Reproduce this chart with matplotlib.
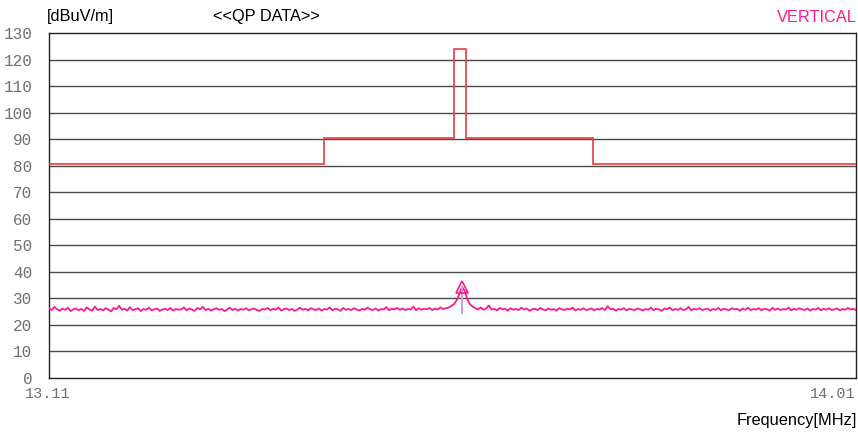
import numpy as np
import matplotlib
matplotlib.use("Agg")
import matplotlib.pyplot as plt

# limit line (QP limit, dBuV/m) - edges in MHz
limit_edges = [13.11, 13.417, 13.562, 13.575, 13.717, 14.01]
limit_levels = [80.5, 90.5, 124.0, 90.5, 80.5]

trace = [
    26.3, 25.6, 26.8, 25.9, 25.4, 26.1, 25.7, 26.5, 25.2, 25.9, 26.2, 25.5, 26.0, 25.3, 26.6, 25.8, 25.4, 26.9, 25.6, 26.0,
    25.5, 26.3, 25.8, 25.1, 26.4, 25.9, 27.2, 25.7, 26.1, 25.4, 26.7, 25.6, 25.9, 26.3, 25.2, 26.0, 25.7, 26.5, 25.5, 25.9,
    26.2, 25.3, 25.8, 26.1, 25.6, 26.4, 25.4, 26.0, 25.7, 25.9, 26.6, 25.5, 26.2, 25.8, 25.3, 26.4, 25.9, 26.8, 25.6, 26.1,
    25.4, 25.9, 26.3, 25.7, 26.0, 25.2, 25.8, 26.5, 25.6, 26.1, 25.4, 26.0, 25.7, 26.3, 25.5, 25.9, 26.2, 25.6, 25.3, 26.0,
    25.8, 26.4, 25.5, 26.1, 25.7, 26.6, 25.4, 25.9, 26.2, 25.6, 26.0, 25.3, 25.8, 26.5, 25.7, 26.1, 25.5, 26.3, 25.9, 25.6,
    26.2, 25.4, 26.0, 25.8, 26.6, 25.5, 26.1, 25.9, 25.3, 26.4, 25.7, 26.0, 25.6, 26.3, 25.8, 25.4, 26.1, 25.7, 26.5, 25.9,
    25.6, 26.2, 25.4, 26.0, 25.8, 26.7, 25.5, 26.1, 25.9, 26.4, 25.7, 26.2, 25.6, 26.0, 25.8, 26.9, 25.5, 26.3, 25.7, 26.1,
    25.9, 26.4, 25.6, 26.2, 25.8, 26.6, 26.0, 26.3, 26.5, 27.1, 27.8, 29.2, 31.6, 34.3, 32.8, 29.6, 27.8, 26.9, 26.3, 25.8,
    26.6, 25.7, 26.2, 27.3, 25.8, 26.0, 25.5, 26.4, 25.9, 26.1, 25.4, 26.3, 25.7, 26.0, 25.6, 26.5, 25.8, 26.2, 25.3, 25.9,
    26.1, 25.6, 26.4, 25.8, 25.5, 26.2, 25.7, 26.0, 25.4, 26.3, 25.9, 25.6, 26.1, 25.8, 26.5, 25.5, 26.0, 25.7, 26.3, 25.6,
    25.9, 26.2, 25.5, 26.0, 25.8, 26.4, 25.6, 27.1, 25.9, 26.1, 25.4, 26.0, 25.7, 26.3, 25.5, 26.1, 25.8, 25.6, 26.2, 25.9,
    25.4, 26.0, 25.7, 26.5, 25.6, 26.1, 25.8, 25.3, 26.2, 25.9, 26.6, 25.5, 26.0, 25.7, 26.3, 25.6, 25.9, 26.8, 25.5, 26.1,
    25.8, 26.3, 25.6, 25.9, 26.2, 25.4, 26.0, 25.7, 26.4, 25.5, 26.1, 25.8, 25.6, 26.3, 25.9, 26.0, 25.4, 26.2, 25.7, 26.5,
    25.6, 26.0, 25.8, 26.3, 25.5, 26.1, 25.9, 25.4, 26.4, 25.7, 26.2, 25.6, 26.0, 25.8, 26.5, 25.5, 26.1, 25.7, 26.3, 25.9,
    25.6, 26.2, 25.4, 26.0, 25.8, 26.4, 25.5, 26.1, 25.7, 26.3, 25.6, 25.9, 26.2, 25.5, 26.0, 25.7, 26.4, 25.8, 26.1, 25.6,
]
f_start, f_stop = 13.11, 14.01
y_ticks = list(range(0, 131, 10))
marker_base = 24.5

freqs = np.linspace(f_start, f_stop, len(trace))
pk = int(np.argmax(trace))

fig = plt.figure(figsize=(8.58, 4.32), dpi=100)
ax = fig.add_axes([49 / 858, 54 / 432, 807 / 858, 345 / 432])

for y in y_ticks[1:-1]:
    ax.axhline(y, color="#4a4a4a", lw=1, zorder=1)

ax.stairs(limit_levels, limit_edges, baseline=None, color="#ea3a40", lw=1.2, zorder=3)
ax.plot(freqs, trace, color="#ff1a8c", lw=1.3, zorder=4)

# peak marker
ax.plot([freqs[pk], freqs[pk]], [marker_base, trace[pk]], color="#c8a0d8", lw=1.4, zorder=5)
ax.plot(freqs[pk], trace[pk], marker="^", ms=8, mfc="none", mec="#ff1a8c", mew=1.2, zorder=6)

ax.set_xlim(f_start, f_stop)
ax.set_ylim(0, 130)
ax.set_yticks(y_ticks)
ax.set_yticklabels([str(v) for v in y_ticks], family="Liberation Mono", fontsize=11.5, color="#707070")
ax.set_xticks([])
ax.tick_params(axis="y", length=0, pad=12)
for s in ax.spines.values():
    s.set_color("#222222")
    s.set_linewidth(1)

sans = "Liberation Sans"
fig.text(47 / 858, 1 - 17 / 432, "[dBuV/m]", family=sans, fontsize=11.8, ha="left", va="center")
fig.text(213 / 858, 1 - 17 / 432, "<<QP DATA>>", family=sans, fontsize=11.8, ha="left", va="center")
fig.text(857 / 858, 1 - 17 / 432, "VERTICAL", family=sans, fontsize=11.8, ha="right", va="center", color="#ff1a8c")
fig.text(48 / 858, 1 - 394 / 432, "13.11", family="Liberation Mono", fontsize=11, ha="center", va="center", color="#707070")
fig.text(856 / 858, 1 - 394 / 432, "14.01", family="Liberation Mono", fontsize=11, ha="right", va="center", color="#707070")
fig.text(857 / 858, 1 - 421 / 432, "Frequency[MHz]", family=sans, fontsize=11.8, ha="right", va="center")

fig.savefig("out.png", dpi=100)
